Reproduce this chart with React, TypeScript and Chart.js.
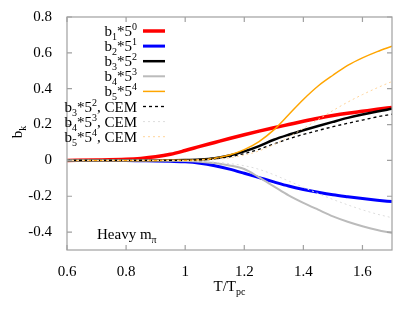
import React, { useEffect, useRef } from "react";
import Chart from "chart.js/auto";

const T = [0.6, 0.7, 0.8, 0.85, 0.9, 0.95, 1.0, 1.05, 1.1, 1.15, 1.2, 1.25, 1.3, 1.35, 1.4, 1.45, 1.5, 1.55, 1.6, 1.65, 1.7];
const b1 = [0, 0.002, 0.006, 0.011, 0.02, 0.034, 0.055, 0.078, 0.1, 0.122, 0.143, 0.163, 0.182, 0.2, 0.218, 0.235, 0.25, 0.263, 0.274, 0.285, 0.295];
const b2 = [0, 0, -0.001, -0.002, -0.003, -0.005, -0.008, -0.016, -0.03, -0.049, -0.072, -0.096, -0.12, -0.143, -0.162, -0.178, -0.192, -0.203, -0.213, -0.222, -0.23];
const b3 = [0, 0, 0, 0, 0, 0.001, 0.002, 0.005, 0.012, 0.027, 0.05, 0.08, 0.115, 0.143, 0.168, 0.192, 0.215, 0.237, 0.256, 0.273, 0.288];
const b4 = [0, 0, 0, 0, -0.001, -0.002, -0.003, -0.007, -0.015, -0.028, -0.048, -0.095, -0.145, -0.195, -0.237, -0.275, -0.312, -0.342, -0.367, -0.388, -0.405];
const b5 = [0, 0, 0, 0, 0, 0.001, 0.001, 0.003, 0.012, 0.03, 0.06, 0.105, 0.17, 0.255, 0.34, 0.415, 0.475, 0.53, 0.572, 0.607, 0.637];
const b3CEM = [0, 0, 0, 0, 0, 0, 0.001, 0.004, 0.009, 0.02, 0.038, 0.062, 0.092, 0.12, 0.145, 0.167, 0.188, 0.207, 0.225, 0.243, 0.258];
const b4CEM = [0, 0, 0, 0, 0, -0.001, -0.002, -0.005, -0.01, -0.018, -0.03, -0.05, -0.08, -0.115, -0.15, -0.185, -0.218, -0.248, -0.276, -0.3, -0.32];
const b5CEM = [0, 0, 0, 0, 0, 0, 0, 0.002, 0.005, 0.014, 0.029, 0.053, 0.088, 0.13, 0.178, 0.228, 0.278, 0.325, 0.367, 0.405, 0.44];

const xTicks = [0.6, 0.8, 1.0, 1.2, 1.4, 1.6];
const yTicks = [-0.4, -0.2, 0, 0.2, 0.4, 0.6, 0.8];

const FONT = '"Liberation Serif", "Times New Roman", serif';

type Part = { t: string; s?: "sub" | "sup" };

const legendLabels: Part[][] = [
  [{ t: "b" }, { t: "1", s: "sub" }, { t: "*5" }, { t: "0", s: "sup" }],
  [{ t: "b" }, { t: "2", s: "sub" }, { t: "*5" }, { t: "1", s: "sup" }],
  [{ t: "b" }, { t: "3", s: "sub" }, { t: "*5" }, { t: "2", s: "sup" }],
  [{ t: "b" }, { t: "4", s: "sub" }, { t: "*5" }, { t: "3", s: "sup" }],
  [{ t: "b" }, { t: "5", s: "sub" }, { t: "*5" }, { t: "4", s: "sup" }],
  [{ t: "b" }, { t: "3", s: "sub" }, { t: "*5" }, { t: "2", s: "sup" }, { t: ", CEM" }],
  [{ t: "b" }, { t: "4", s: "sub" }, { t: "*5" }, { t: "3", s: "sup" }, { t: ", CEM" }],
  [{ t: "b" }, { t: "5", s: "sub" }, { t: "*5" }, { t: "4", s: "sup" }, { t: ", CEM" }],
];

const styles = [
  { color: "#ff0000", width: 3.5, dash: [] as number[] },
  { color: "#0000ff", width: 3, dash: [] as number[] },
  { color: "#000000", width: 2.5, dash: [] as number[] },
  { color: "#bbbbbb", width: 2, dash: [] as number[] },
  { color: "#ffa500", width: 1.5, dash: [] as number[] },
  { color: "#000000", width: 1.3, dash: [3, 3] },
  { color: "#dddddd", width: 1, dash: [2, 3] },
  { color: "#ffd49a", width: 1, dash: [2, 3] },
];

const series = [b1, b2, b3, b4, b5, b3CEM, b4CEM, b5CEM];

function fmt(v: number) {
  return String(Math.round(v * 10) / 10);
}

function drawRich(ctx: CanvasRenderingContext2D, parts: Part[], x: number, y: number, align: "left" | "right" | "center", size = 15, small = 10) {
  const big = `${size}px ${FONT}`;
  const sm = `${small}px ${FONT}`;
  let w = 0;
  const ws: number[] = [];
  for (const p of parts) {
    ctx.font = p.s ? sm : big;
    const m = ctx.measureText(p.t).width;
    ws.push(m);
    w += m;
  }
  let cx = align === "left" ? x : align === "right" ? x - w : x - w / 2;
  ctx.textBaseline = "alphabetic";
  ctx.textAlign = "left";
  ctx.fillStyle = "#000";
  parts.forEach((p, i) => {
    ctx.font = p.s ? sm : big;
    const dy = p.s === "sub" ? 4 : p.s === "sup" ? -6 : 0;
    ctx.fillText(p.t, cx, y + dy);
    cx += ws[i];
  });
}

const decorPlugin = {
  id: "decor",
  afterDatasetsDraw(chart: any) {
    const ctx: CanvasRenderingContext2D = chart.ctx;
    const { left, right, top, bottom } = chart.chartArea;
    const xs = chart.scales.x;
    const ys = chart.scales.y;
    ctx.save();
    ctx.strokeStyle = "#a0a0a0";
    ctx.lineWidth = 1.2;
    ctx.setLineDash([]);
    ctx.strokeRect(left, top, right - left, bottom - top);
    const tl = 5;
    ctx.beginPath();
    for (const v of xTicks) {
      const px = xs.getPixelForValue(v);
      ctx.moveTo(px, bottom);
      ctx.lineTo(px, bottom - tl);
      ctx.moveTo(px, top);
      ctx.lineTo(px, top + tl);
    }
    for (const v of yTicks) {
      const py = ys.getPixelForValue(v);
      ctx.moveTo(left, py);
      ctx.lineTo(left + tl, py);
      ctx.moveTo(right, py);
      ctx.lineTo(right - tl, py);
    }
    ctx.stroke();

    // legend
    const textRight = 137;
    const lineX0 = 143;
    const lineX1 = 165;
    legendLabels.forEach((parts, i) => {
      const cy = 31 + i * 15.1;
      drawRich(ctx, parts, textRight, cy + 5, "right");
      const st = styles[i];
      ctx.beginPath();
      ctx.strokeStyle = st.color;
      ctx.lineWidth = st.width;
      ctx.setLineDash(st.dash);
      ctx.moveTo(lineX0, cy);
      ctx.lineTo(lineX1, cy);
      ctx.stroke();
    });
    ctx.setLineDash([]);

    // annotation
    drawRich(ctx, [{ t: "Heavy m" }, { t: "\u03c0", s: "sub" }], 97, 239, "left");

    // x title
    drawRich(ctx, [{ t: "T/T" }, { t: "pc", s: "sub" }], (left + right) / 2, 291, "center");

    // y title
    ctx.save();
    ctx.translate(22, 132);
    ctx.rotate(-Math.PI / 2);
    drawRich(ctx, [{ t: "b" }, { t: "k", s: "sub" }], 0, 0, "center");
    ctx.restore();

    ctx.restore();
  },
};

export default function App() {
  const ref = useRef<HTMLCanvasElement | null>(null);
  useEffect(() => {
    if (!ref.current) return;
    const datasets = series.map((arr, i) => ({
      label: `s${i}`,
      data: arr.map((v, j) => ({ x: T[j], y: v })),
      borderColor: styles[i].color,
      borderWidth: styles[i].width,
      borderDash: styles[i].dash,
      pointRadius: 0,
      fill: false,
      cubicInterpolationMode: "monotone" as const,
      order: 10 - i,
    }));
    const tickFont = { family: FONT, size: 15 };
    const chart = new Chart(ref.current, {
      type: "line",
      data: { datasets },
      options: {
        responsive: false,
        devicePixelRatio: 1,
        animation: false,
        layout: { padding: { top: 17, right: 23, left: 0, bottom: 0 } },
        plugins: { legend: { display: false }, tooltip: { enabled: false } },
        scales: {
          x: {
            type: "linear",
            min: 0.6,
            max: 1.7,
            afterBuildTicks: (s: any) => {
              s.ticks = xTicks.map((v) => ({ value: v }));
            },
            afterFit: (s: any) => {
              s.height = 62;
            },
            ticks: { callback: (v: any) => fmt(Number(v)), font: tickFont, color: "#000", padding: 5, maxRotation: 0, autoSkip: false },
            grid: { display: false },
            border: { display: false },
          },
          y: {
            type: "linear",
            min: -0.5,
            max: 0.8,
            afterBuildTicks: (s: any) => {
              s.ticks = yTicks.map((v) => ({ value: v }));
            },
            afterFit: (s: any) => {
              s.width = 67;
            },
            ticks: { callback: (v: any) => fmt(Number(v)), font: tickFont, color: "#000", padding: 7, autoSkip: false },
            grid: { display: false },
            border: { display: false },
          },
        },
      },
      plugins: [decorPlugin],
    });
    return () => chart.destroy();
  }, []);
  return (
    <div style={{ position: "absolute", left: 0, top: 0, width: 415, height: 312, background: "#fff" }}>
      <canvas ref={ref} width={415} height={312} style={{ width: 415, height: 312 }} />
    </div>
  );
}
